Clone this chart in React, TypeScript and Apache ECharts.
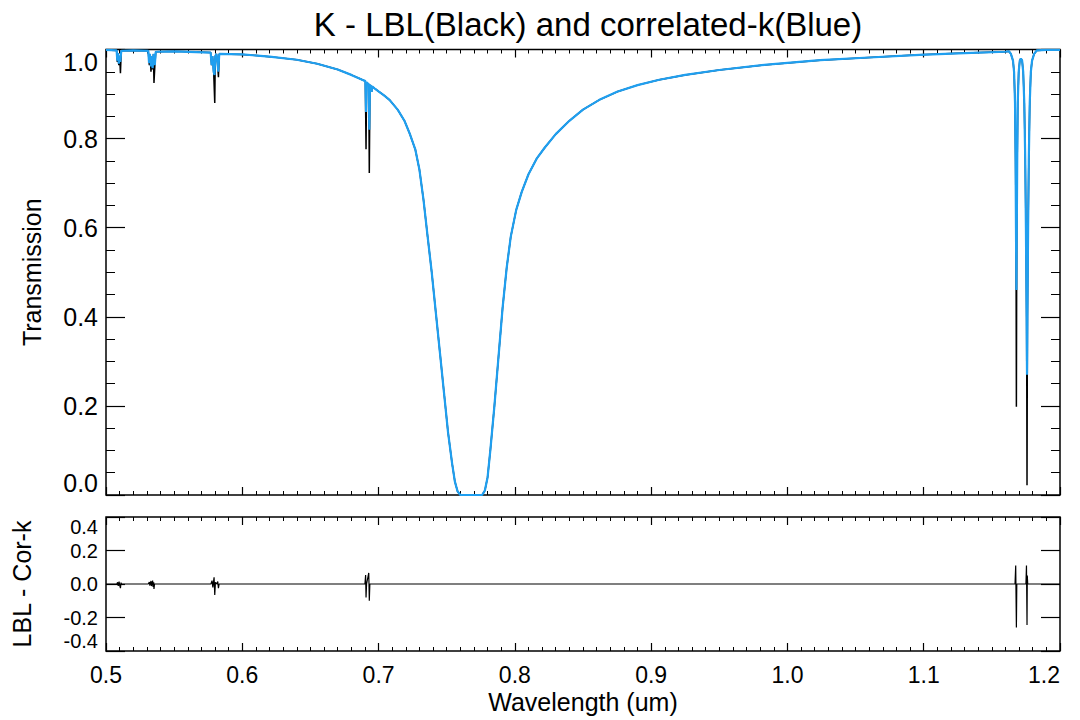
import React, { useEffect, useRef } from "react";
import * as echarts from "echarts";

// ---- Data ----
const TITLE = "K - LBL(Black) and correlated-k(Blue)";
const X_NAME = "Wavelength (um)";
const Y_TOP_NAME = "Transmission";
const Y_BOTTOM_NAME = "LBL - Cor-k";

// broad K resonance doublet profile (shared by both curves), [wavelength um, transmission]
const BROAD: [number, number][] = [
  [0.5, 0.999], [0.52, 0.998], [0.55, 0.996], [0.6, 0.989], [0.62, 0.984], [0.64, 0.977],
  [0.655, 0.968], [0.67, 0.955], [0.68, 0.943], [0.688, 0.932],
  [0.697, 0.913], [0.7, 0.906], [0.704, 0.897], [0.708, 0.887], [0.714, 0.865], [0.719, 0.84],
  [0.723, 0.81], [0.727, 0.775], [0.73, 0.73], [0.733, 0.662], [0.736, 0.58], [0.739, 0.5],
  [0.742, 0.41], [0.745, 0.32], [0.748, 0.23], [0.751, 0.14], [0.754, 0.07], [0.756, 0.03],
  [0.758, 0.008], [0.76, 0.0], [0.776, 0.0], [0.778, 0.01], [0.78, 0.04], [0.782, 0.1],
  [0.785, 0.2], [0.788, 0.31], [0.791, 0.42], [0.794, 0.51], [0.797, 0.58], [0.801, 0.64],
  [0.805, 0.68], [0.81, 0.72], [0.816, 0.755], [0.822, 0.78], [0.83, 0.81], [0.84, 0.84],
  [0.85, 0.865], [0.862, 0.887], [0.875, 0.905], [0.89, 0.92], [0.906, 0.932], [0.925, 0.943],
  [0.95, 0.954], [0.985, 0.966], [1.024, 0.976], [1.06, 0.982], [1.097, 0.988], [1.13, 0.992],
  [1.16, 0.995], [1.19, 0.999], [1.2, 0.999],
];

// narrow lines as seen by correlated-k (blue)
const CORK_LINES: [number, number][] = [
  [0.5078, 0.998], [0.5083, 0.975], [0.5088, 0.992], [0.5094, 0.968], [0.51, 0.986], [0.5105, 0.972], [0.5112, 0.997],
  [0.531, 0.997], [0.5316, 0.97], [0.5322, 0.99], [0.533, 0.962], [0.5336, 0.985], [0.5342, 0.958], [0.535, 0.99], [0.5358, 0.965], [0.5365, 0.995],
  [0.5768, 0.993], [0.5775, 0.965], [0.5781, 0.985], [0.579, 0.95], [0.5796, 0.943], [0.5802, 0.985], [0.581, 0.99], [0.5818, 0.972], [0.5824, 0.95], [0.5831, 0.99],
  [0.6903, 0.929], [0.6908, 0.86], [0.6912, 0.926], [0.6928, 0.922], [0.6932, 0.82], [0.6937, 0.92], [0.6945, 0.918], [0.6949, 0.905], [0.6953, 0.917],
  [1.1625, 0.996], [1.164, 0.99], [1.1655, 0.975], [1.1663, 0.95], [1.167, 0.88], [1.1674, 0.75], [1.1677, 0.6], [1.168, 0.46],
  [1.1683, 0.6], [1.1686, 0.75], [1.169, 0.88], [1.1697, 0.95], [1.1705, 0.975], [1.1713, 0.98],
  [1.1722, 0.975], [1.173, 0.95], [1.1738, 0.88], [1.1745, 0.75], [1.175, 0.6], [1.1755, 0.4], [1.1758, 0.27],
  [1.1761, 0.4], [1.1766, 0.6], [1.1771, 0.75], [1.1778, 0.88], [1.1786, 0.95], [1.1795, 0.975], [1.181, 0.99], [1.183, 0.998],
];

// narrow lines as seen line-by-line (black)
const LBL_LINES: [number, number][] = [
  [0.5078, 0.998], [0.5083, 0.972], [0.5088, 0.992], [0.5094, 0.965], [0.51, 0.986], [0.5106, 0.947], [0.5112, 0.997],
  [0.531, 0.997], [0.5318, 0.965], [0.5324, 0.99], [0.533, 0.95], [0.5336, 0.985], [0.5342, 0.955], [0.5348, 0.99], [0.5352, 0.925], [0.5358, 0.96], [0.5365, 0.995],
  [0.5768, 0.993], [0.5775, 0.965], [0.5781, 0.985], [0.579, 0.95], [0.5798, 0.88], [0.5802, 0.985], [0.581, 0.99], [0.5818, 0.97], [0.5825, 0.938], [0.5831, 0.99],
  [0.6903, 0.929], [0.6908, 0.776], [0.6912, 0.926], [0.6928, 0.922], [0.6932, 0.723], [0.6937, 0.92], [0.6945, 0.918], [0.6949, 0.905], [0.6953, 0.917],
  [1.1625, 0.996], [1.164, 0.99], [1.1655, 0.975], [1.1663, 0.95], [1.167, 0.88], [1.1674, 0.75], [1.1677, 0.6], [1.168, 0.198],
  [1.1683, 0.6], [1.1686, 0.75], [1.169, 0.88], [1.1697, 0.95], [1.1705, 0.975], [1.1713, 0.98],
  [1.1722, 0.975], [1.173, 0.95], [1.1738, 0.88], [1.1745, 0.75], [1.175, 0.6], [1.1755, 0.4], [1.1758, 0.022],
  [1.1761, 0.4], [1.1766, 0.6], [1.1771, 0.75], [1.1778, 0.88], [1.1786, 0.95], [1.1795, 0.975], [1.181, 0.99], [1.183, 0.998],
];

// residual LBL - correlated-k
const RESIDUAL: [number, number][] = [
  [0.5, 0], [0.508, 0], [0.5085, 0.01], [0.509, -0.012], [0.5096, 0.015], [0.5101, -0.01], [0.5106, -0.025], [0.511, 0.008], [0.5114, 0],
  [0.531, 0], [0.5318, 0.012], [0.5322, -0.01], [0.533, 0.018], [0.5334, -0.012], [0.5342, 0.02], [0.5346, -0.018], [0.535, 0.01], [0.5352, -0.03], [0.5356, 0],
  [0.577, 0], [0.5778, 0.02], [0.5784, -0.02], [0.5793, 0.04], [0.5798, -0.066], [0.5803, 0.01], [0.5815, 0], [0.582, 0.015], [0.5825, -0.025], [0.583, 0],
  [0.69, 0], [0.6905, 0.054], [0.6908, -0.08], [0.6912, 0], [0.6928, 0.066], [0.6932, -0.1], [0.6936, 0],
  [1.167, 0], [1.1675, 0.11], [1.1678, 0.11], [1.168, -0.26], [1.1683, 0],
  [1.175, 0], [1.1754, 0.11], [1.1758, -0.245], [1.176, 0.05], [1.1763, 0], [1.2, 0],
];

const X_RANGE = [0.5, 1.2];
const X_STEP = 0.1;
const Y_TOP_RANGE = [0, 1];
const Y_TOP_STEP = 0.2;
const Y_BOT_RANGE = [-0.4, 0.4];
const Y_BOT_STEP = 0.2;

const FONT = "'Liberation Sans', Arial, Helvetica, sans-serif";
const BLUE = "#1f9ff0";

function merge(a: [number, number][], b: [number, number][]) {
  return [...a, ...b].sort((p, q) => p[0] - q[0]);
}

export default function App() {
  const ref = useRef<HTMLDivElement>(null);
  useEffect(() => {
    document.body.style.margin = "0";
    const chart = echarts.init(ref.current!, null, { renderer: "svg" });
    const fmt = (v: number) => v.toFixed(1);
    const xBase = (grid: number, pos: "top" | "bottom", labels: boolean): any => ({
      type: "value",
      gridIndex: grid,
      position: pos,
      min: X_RANGE[0],
      max: X_RANGE[1],
      interval: X_STEP,
      axisLine: { show: false, onZero: false },
      splitLine: { show: false },
      axisTick: { show: true, inside: true, length: 8, lineStyle: { color: "#000", width: 1.2 } },
      minorTick: { show: true, splitNumber: 10, length: 4, lineStyle: { color: "#000", width: 1 } },
      axisLabel: {
        show: labels,
        formatter: fmt,
        color: "#000",
        fontFamily: FONT,
        fontSize: 23,
        margin: 12,
        alignMaxLabel: "right",
      },
    });
    const yBase = (grid: number, pos: "left" | "right", labels: boolean, range: number[], step: number, minor: boolean, fs: number): any => ({
      type: "value",
      gridIndex: grid,
      position: pos,
      min: range[0],
      max: range[1],
      interval: step,
      axisLine: { show: false, onZero: false },
      splitLine: { show: false },
      axisTick: { show: true, inside: true, length: 19, lineStyle: { color: "#000", width: 1.2 } },
      minorTick: { show: minor, splitNumber: 4, length: 9, lineStyle: { color: "#000", width: 1 } },
      axisLabel: {
        show: labels,
        formatter: fmt,
        color: "#000",
        fontFamily: FONT,
        fontSize: fs,
        margin: 8,
        verticalAlignMinLabel: "bottom",
        verticalAlignMaxLabel: "top",
      },
    });
    const yTop = yBase(0, "left", true, Y_TOP_RANGE, Y_TOP_STEP, true, 25);
    yTop.name = Y_TOP_NAME;
    yTop.nameLocation = "middle";
    yTop.nameGap = 62;
    yTop.nameTextStyle = { color: "#000", fontFamily: FONT, fontSize: 25 };
    const yBot = yBase(1, "left", true, Y_BOT_RANGE, Y_BOT_STEP, false, 20);
    yBot.name = Y_BOTTOM_NAME;
    yBot.nameLocation = "middle";
    yBot.nameGap = 72;
    yBot.nameTextStyle = { color: "#000", fontFamily: FONT, fontSize: 25 };
    const xBot = xBase(1, "bottom", true);
    xBot.name = X_NAME;
    xBot.nameLocation = "middle";
    xBot.nameGap = 38;
    xBot.nameTextStyle = { color: "#000", fontFamily: FONT, fontSize: 25 };

    chart.setOption({
      animation: false,
      backgroundColor: "#fff",
      title: {
        text: TITLE,
        left: 583,
        top: 3,
        textAlign: "center",
        textStyle: { color: "#000", fontFamily: FONT, fontSize: 33, fontWeight: "normal" },
      },
      grid: [
        { left: 106, top: 49.5, width: 954, height: 445.5, show: true, borderColor: "#000", borderWidth: 1.5, backgroundColor: "transparent" },
        { left: 106, top: 517, width: 954, height: 134, show: true, borderColor: "#000", borderWidth: 1.5, backgroundColor: "transparent" },
      ],
      xAxis: [xBase(0, "bottom", false), xBase(0, "top", false), xBot, xBase(1, "top", false)],
      yAxis: [
        yTop,
        yBase(0, "right", false, Y_TOP_RANGE, Y_TOP_STEP, true, 25),
        yBot,
        yBase(1, "right", false, Y_BOT_RANGE, Y_BOT_STEP, false, 20),
      ],
      series: [
        {
          name: "LBL",
          type: "line",
          xAxisIndex: 0,
          yAxisIndex: 0,
          data: merge(BROAD, LBL_LINES),
          showSymbol: false,
          lineStyle: { color: "#000", width: 1.5 },
          z: 2,
        },
        {
          name: "correlated-k",
          type: "line",
          xAxisIndex: 0,
          yAxisIndex: 0,
          data: merge(BROAD, CORK_LINES),
          showSymbol: false,
          lineStyle: { color: BLUE, width: 2.2 },
          z: 3,
        },
        {
          name: "LBL - Cor-k",
          type: "line",
          xAxisIndex: 2,
          yAxisIndex: 2,
          data: RESIDUAL,
          showSymbol: false,
          lineStyle: { color: "#000", width: 1.2 },
          z: 2,
        },
      ],
    });
    return () => chart.dispose();
  }, []);
  return <div ref={ref} style={{ width: 1080, height: 720 }} />;
}
